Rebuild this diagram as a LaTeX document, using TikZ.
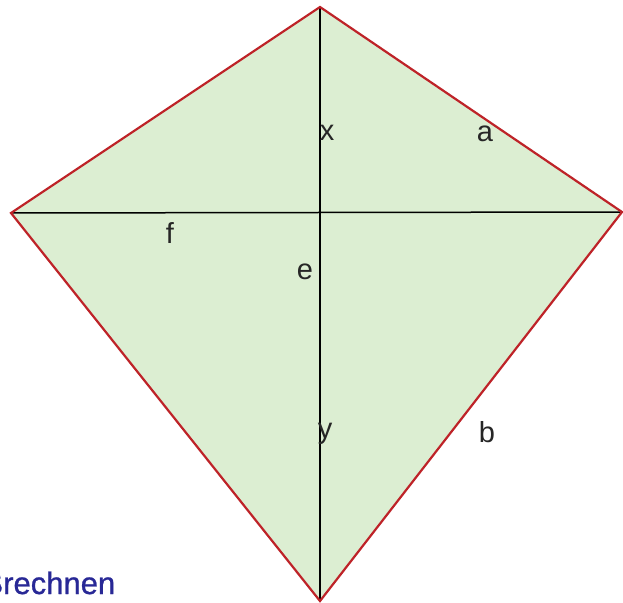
\documentclass[tikz,border=0pt]{standalone}
\usepackage{fontspec}
\setmainfont{Liberation Sans}
\newfontfamily\calcfont[FakeBold=0.8]{Liberation Sans}
\definecolor{kitefill}{RGB}{220,238,210}
\definecolor{kiteedge}{RGB}{190,35,40}
\definecolor{txtblue}{RGB}{40,40,150}
\begin{document}
\begin{tikzpicture}[x=1pt,y=-1pt,
  lbl/.style={font=\fontsize{29}{29}\selectfont, text=black!85, inner sep=0pt},
  edge/.style={draw=kiteedge, line width=2.2pt, line join=miter},
  diag/.style={draw=black, line width=1.5pt}]
\useasboundingbox[fill=white] (0,0) rectangle (623,602);
\clip (0,0) rectangle (623,602);
\coordinate (T) at (320,7);
\coordinate (L) at (11,213);
\coordinate (R) at (622,212);
\coordinate (B) at (320,601);
\fill[kitefill] (T) -- (R) -- (B) -- (L) -- cycle;
\draw[diag] (T) -- (B);
\draw[diag] (L) -- (R);
\draw[edge] (L) -- (T) -- (R) -- (B) -- cycle;
\node[lbl] (lx) at (327,133) {x};
\node[lbl] (la) at (485,134) {a};
\node[lbl] (lf) at (170,233) {f};
\node[lbl] (le) at (305,272) {e};
\node[lbl] (ly) at (325,434) {y};
\node[lbl] (lb) at (487,432) {b};
\node[anchor=base west, inner sep=0pt, text=txtblue, font=\calcfont\fontsize{31}{31}\selectfont] (calc) at (3,594) {\llap{B}rechnen};
\end{tikzpicture}
\end{document}
